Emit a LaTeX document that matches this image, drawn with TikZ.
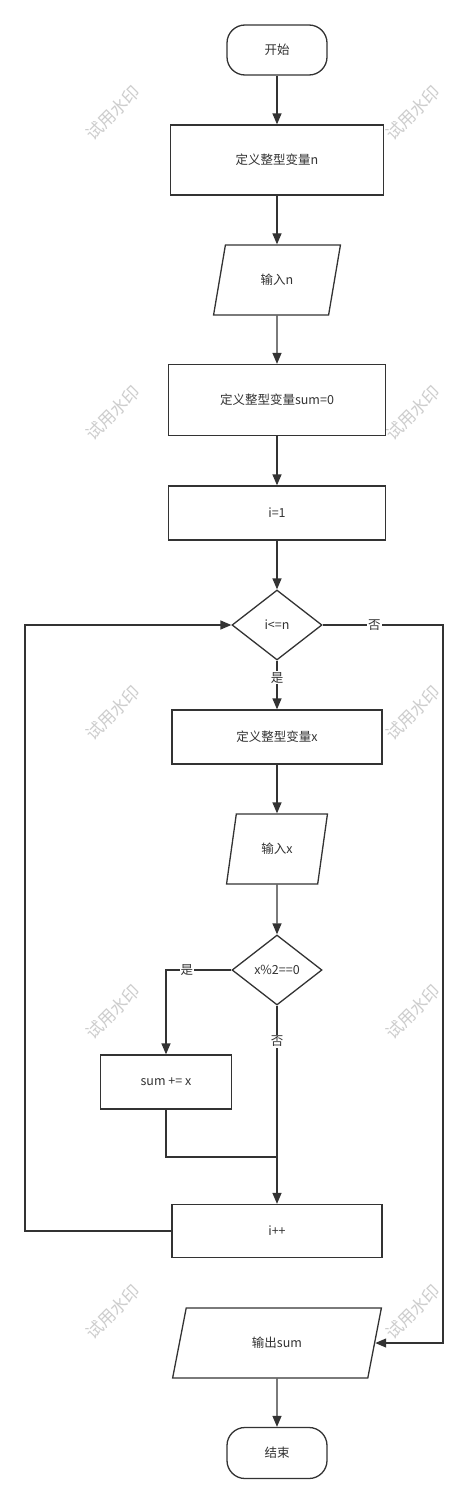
\documentclass[tikz,border=0pt]{standalone}
\usepackage{fontspec}
\setmainfont{Noto Sans CJK SC}
\usepackage{tikz}
\usetikzlibrary{arrows.meta, positioning, calc, shapes.geometric}
\definecolor{linegray}{RGB}{51,51,51}
\definecolor{markgray}{RGB}{205,205,205}
\tikzset{>={Triangle[length=11pt,width=9pt]}}
\tikzset{
  base/.style={draw=linegray, line width=1.3pt, fill=white, text=linegray, inner sep=0pt, font=\fontsize{12.5}{15}\selectfont},
  terminal/.style={base, rectangle, rounded corners=18pt, minimum width=100pt, minimum height=50pt},
  process/.style={base, rectangle, minimum height=54pt},
  io/.style={base, trapezium, trapezium left angle=72, trapezium right angle=108, trapezium stretches=true, minimum height=70pt},
  decision/.style={base, diamond, aspect=1.3, minimum width=90pt, minimum height=70pt},
  conn/.style={draw=linegray, line width=1.3pt},
  lbl/.style={fill=white, text=linegray, inner sep=1pt, font=\fontsize{12.5}{15}\selectfont},
  wmark/.style={text=markgray, rotate=45, inner sep=0pt, font=\fontsize{17}{17}\selectfont}
}

\begin{document}
\begin{tikzpicture}[x=1pt, y=-1pt]
  \fill[white] (0,0) rectangle (468,1504);
  \useasboundingbox (0,0) rectangle (468,1504);
  % watermarks
  \foreach \wy in {113,413,713,1012,1312}
    \foreach \wx in {113,413}
      \node[wmark] (wm-\wx-\wy) at (\wx,\wy) {试用水印};
  % main column
  \node[terminal] (start) at (277,50) {开始};
  \node[process, minimum width=213pt, minimum height=70pt] (defn) at (277,160) {定义整型变量n};
  \node[io, minimum width=127pt] (inn) at (277,280) {输入n};
  \node[process, minimum width=217pt, minimum height=71pt] (defsum) at (277,400) {定义整型变量sum=0};
  \node[process, minimum width=217pt] (initi) at (277,513) {i=1};
  \node[decision] (cond) at (277,625) {i<=n};
  \node[process, minimum width=210pt] (defx) at (277,737) {定义整型变量x};
  \node[io, minimum width=101pt] (inx) at (277,849) {输入x};
  \node[decision] (even) at (277,970) {x\%2==0};
  \node[process, minimum width=131pt] (addx) at (166,1082) {sum += x};
  \node[process, minimum width=210pt, minimum height=53pt] (inci) at (277,1231) {i++};
  \node[io, minimum width=210pt] (outsum) at (277,1343) {输出sum};
  \node[terminal, minimum height=51pt] (stop) at (277,1453) {结束};
  % rails and joins
  \coordinate (railL) at (25,0);
  \coordinate (railR) at (443,0);
  \coordinate (merge) at (277,1157);
  % connectors
  \draw[conn,->] (start) -- (defn);
  \draw[conn,->] (defn) -- (inn);
  \draw[conn,->] (inn) -- (defsum);
  \draw[conn,->] (defsum) -- (initi);
  \draw[conn,->] (initi) -- (cond);
  \draw[conn,->] (cond.south) -- node[lbl, pos=0.35]{是} (defx.north);
  \draw[conn,->] (cond.east) -- node[lbl, pos=0.43]{否} (cond.east -| railR) |- (outsum.east);
  \draw[conn,->] (defx) -- (inx);
  \draw[conn,->] (inx) -- (even);
  \draw[conn,->] (even.west) -| node[lbl, pos=0.34]{是} (addx.north);
  \draw[conn,->] (even.south) -- node[lbl, pos=0.18]{否} (inci.north);
  \draw[conn] (addx.south) |- (merge);
  \draw[conn,->] (inci.west) -- (inci.west -| railL) |- (cond.west);
  \draw[conn,->] (outsum) -- (stop);
\end{tikzpicture}
\end{document}
